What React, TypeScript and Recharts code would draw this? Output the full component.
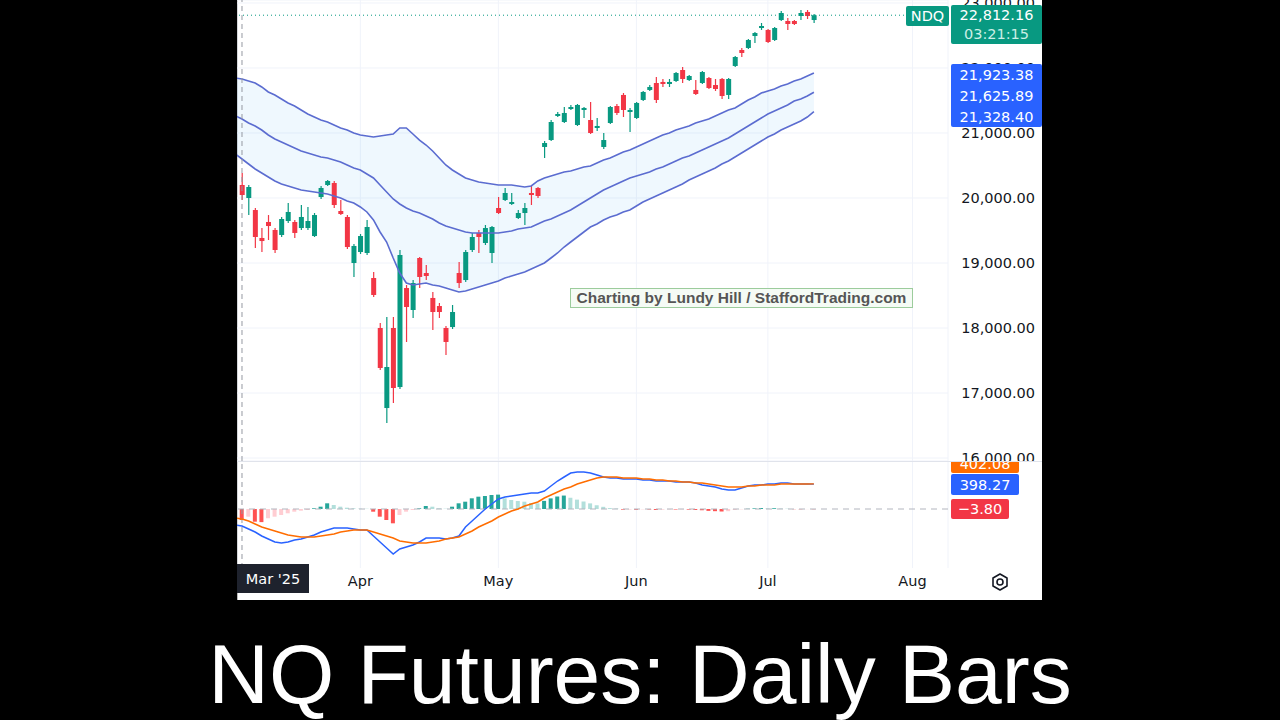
import React from 'react';
import { Area, Bar, CartesianGrid, Cell, ComposedChart, Line, ReferenceLine, XAxis, YAxis } from 'recharts';

const GREEN = '#089981';
const RED = '#F23645';
const BAND = '#5B6CD0';
const AXIS_FONT = '"DejaVu Sans", sans-serif';

// daily bars, Mar 6 .. Jul 11 2025 (trading-day index 0..87)
const opens = [20200, 20000, 19815, 19385, 19631, 19508, 19431, 19646, 19631, 19538, 19538, 19415, 20015, 20200, 20231, 19800, 19708, 19000, 19169, 19154, 18769, 18000, 16769, 18000, 17092, 18615, 18277, 19077, 18846, 18462, 18338, 18000, 18015, 18846, 18738, 19200, 19462, 19308, 19154, 19846, 19969, 19908, 19692, 19769, 20077, 20154, 20785, 20892, 21262, 21169, 21369, 21123, 21354, 21200, 21077, 20785, 21154, 21415, 21585, 21323, 21231, 21508, 21662, 21769, 21785, 21754, 21800, 21969, 21815, 21662, 21769, 21846, 21738, 21831, 21585, 22031, 22277, 22308, 22492, 22615, 22585, 22431, 22738, 22723, 22723, 22800, 22862, 22738];
const highs = [20385, 20200, 19846, 19538, 19738, 19538, 19708, 19923, 19662, 19892, 19862, 19769, 20185, 20277, 20262, 19969, 19738, 19292, 19446, 19662, 18862, 18077, 18169, 18169, 19200, 18662, 18738, 19092, 18969, 18554, 18385, 18031, 18354, 19015, 19200, 19462, 19508, 19585, 19569, 20015, 20154, 20077, 19815, 19923, 20200, 20169, 20877, 21200, 21323, 21400, 21431, 21446, 21400, 21477, 21231, 21000, 21415, 21446, 21615, 21385, 21477, 21646, 21738, 21862, 21831, 21831, 21938, 22015, 21892, 21815, 21954, 21862, 21831, 21846, 21846, 22185, 22308, 22446, 22554, 22692, 22600, 22631, 22877, 22769, 22738, 22892, 22892, 22830];
const lows = [19969, 19738, 19231, 19169, 19354, 19154, 19400, 19615, 19385, 19508, 19508, 19400, 19985, 20185, 19846, 19738, 19215, 18785, 19138, 19123, 18477, 17354, 16538, 16846, 17062, 17785, 18154, 18615, 18738, 17969, 18154, 17585, 17985, 18615, 18708, 19169, 19154, 19277, 19000, 19754, 19954, 19892, 19677, 19585, 19892, 20000, 20615, 20877, 21246, 21154, 21354, 21108, 21231, 20985, 21031, 20754, 21138, 21277, 21246, 21015, 21215, 21492, 21646, 21462, 21708, 21708, 21785, 21769, 21800, 21585, 21754, 21677, 21646, 21523, 21523, 22015, 22169, 22292, 22385, 22585, 22385, 22415, 22723, 22585, 22662, 22738, 22754, 22692];
const closes = [20046, 20169, 19400, 19338, 19569, 19200, 19677, 19785, 19462, 19708, 19646, 19738, 20154, 20262, 19892, 19754, 19246, 19262, 19415, 19554, 18508, 17385, 17400, 17077, 19123, 18323, 18692, 18785, 18800, 18246, 18246, 17785, 18246, 18692, 19169, 19400, 19400, 19538, 19554, 19769, 20077, 19938, 19769, 19846, 20046, 20031, 20846, 21169, 21292, 21308, 21400, 21431, 21385, 21000, 21108, 20892, 21400, 21308, 21354, 21354, 21462, 21631, 21708, 21508, 21754, 21785, 21923, 21831, 21877, 21600, 21938, 21692, 21677, 21569, 21831, 22169, 22231, 22431, 22538, 22646, 22400, 22615, 22846, 22677, 22677, 22846, 22800, 22812];

// envelope bands; the first value is the day before the first visible bar (index -1, at the pane edge)
const upperBand = [21846, 21831, 21800, 21769, 21708, 21631, 21585, 21523, 21462, 21415, 21354, 21292, 21246, 21200, 21169, 21123, 21077, 21046, 21000, 20969, 20954, 20938, 20954, 20969, 20985, 21077, 21077, 20985, 20892, 20815, 20723, 20615, 20508, 20431, 20369, 20308, 20277, 20246, 20231, 20215, 20200, 20200, 20200, 20185, 20169, 20185, 20262, 20308, 20338, 20369, 20400, 20415, 20446, 20477, 20492, 20538, 20585, 20615, 20662, 20708, 20738, 20785, 20831, 20877, 20923, 20969, 21000, 21046, 21077, 21108, 21154, 21185, 21215, 21262, 21308, 21354, 21385, 21446, 21508, 21554, 21615, 21646, 21677, 21723, 21754, 21800, 21831, 21877, 21923];
const middleBand = [21262, 21215, 21154, 21108, 21046, 20969, 20908, 20862, 20815, 20769, 20723, 20692, 20662, 20631, 20615, 20585, 20554, 20508, 20462, 20431, 20369, 20308, 20200, 20092, 19985, 19908, 19846, 19800, 19769, 19723, 19677, 19615, 19569, 19538, 19508, 19477, 19462, 19462, 19462, 19462, 19462, 19477, 19492, 19523, 19538, 19554, 19600, 19646, 19677, 19723, 19769, 19815, 19877, 19938, 20000, 20062, 20123, 20169, 20215, 20262, 20308, 20338, 20369, 20400, 20446, 20477, 20523, 20569, 20615, 20646, 20692, 20738, 20785, 20831, 20877, 20923, 20985, 21046, 21108, 21169, 21231, 21292, 21338, 21385, 21431, 21492, 21523, 21569, 21626];
const lowerBand = [20677, 20600, 20523, 20446, 20385, 20323, 20262, 20215, 20185, 20154, 20123, 20108, 20092, 20077, 20062, 20031, 20000, 19954, 19923, 19862, 19785, 19662, 19477, 19323, 19077, 18846, 18692, 18662, 18677, 18692, 18662, 18646, 18615, 18585, 18554, 18569, 18600, 18631, 18662, 18692, 18723, 18769, 18800, 18831, 18862, 18908, 18954, 19000, 19077, 19154, 19246, 19323, 19400, 19477, 19554, 19600, 19662, 19708, 19738, 19785, 19815, 19877, 19938, 19985, 20031, 20077, 20123, 20169, 20215, 20277, 20323, 20369, 20415, 20462, 20523, 20569, 20631, 20692, 20754, 20815, 20877, 20938, 20985, 21046, 21092, 21138, 21185, 21246, 21328];

// MACD (lines also start at index -1)
const macdLine = [-256, -272, -320, -368, -432, -480, -528, -544, -528, -496, -480, -448, -416, -368, -336, -304, -304, -304, -320, -336, -336, -432, -528, -624, -720, -640, -608, -576, -528, -464, -464, -464, -480, -464, -432, -288, -192, -96, 0, 80, 160, 192, 208, 224, 240, 256, 256, 288, 368, 448, 512, 576, 592, 592, 576, 544, 512, 496, 496, 480, 480, 480, 464, 464, 448, 448, 448, 432, 432, 432, 416, 384, 368, 352, 320, 304, 304, 336, 368, 384, 384, 400, 400, 416, 416, 400, 400, 400, 398];
const signalLine = [-144, -160, -192, -240, -288, -320, -352, -384, -416, -432, -448, -448, -448, -432, -416, -400, -368, -352, -336, -336, -336, -368, -400, -432, -464, -512, -528, -544, -544, -544, -528, -512, -480, -464, -448, -400, -352, -288, -240, -192, -128, -80, -32, 0, 48, 80, 112, 176, 224, 272, 320, 352, 400, 432, 464, 496, 512, 512, 512, 496, 496, 496, 480, 480, 464, 464, 448, 448, 432, 432, 416, 416, 400, 384, 368, 352, 352, 352, 368, 368, 384, 384, 384, 400, 400, 400, 400, 400, 402];
const histogram = [-176, -123, -203, -210, -149, -123, -96, -69, -43, -27, -16, 11, 37, 91, 64, 37, 21, 11, 5, 3, -43, -123, -176, -229, -96, -43, -16, 11, 48, 37, 11, 5, 37, 91, 117, 171, 197, 208, 224, 230, 171, 144, 128, 117, 96, 90, 130, 170, 200, 215, 180, 150, 120, 90, 60, 35, 15, 8, -10, -8, -12, -5, -8, -15, -10, -5, -8, -5, -10, -15, -20, -30, -35, -40, -35, -15, -5, 5, 10, 15, 10, 12, 8, 5, -3, -4, -2, -4];

const monthTicks = [18, 39, 60, 80, 102];
const monthLabels = ['Apr', 'May', 'Jun', 'Jul', 'Aug'];
const priceTicks = [16000, 17000, 18000, 19000, 20000, 21000, 22000, 23000];

const rows = upperBand.map((upper, k) => {
  const i = k - 1;
  const bar = i >= 0;
  return {
    i,
    open: bar ? opens[i] : null,
    high: bar ? highs[i] : null,
    low: bar ? lows[i] : null,
    close: bar ? closes[i] : null,
    upper,
    middle: middleBand[k],
    lower: lowerBand[k],
    band: [lowerBand[k], upper],
    macd: macdLine[k],
    signal: signalLine[k],
    hist: bar ? histogram[i] : null,
  };
});

const histColor = (i: number) => {
  if (i < 0) return 'none';
  const v = histogram[i];
  const prev = i > 0 ? histogram[i - 1] : v;
  if (v >= 0) return v >= prev ? '#26A69A' : '#B2DFDB';
  return v <= prev ? '#FF5252' : '#FFCDD2';
};

const X_DOMAIN: [number, number] = [-0.76, 107.4];

function Candle(props: any) {
  const { x, y, width, height, payload } = props;
  if (!payload || payload.open == null) return null;
  const { open, close, high, low } = payload;
  const color = close >= open ? GREEN : RED;
  const top = Math.min(y, y + height);
  const h = Math.abs(height);
  const k = high === low ? 0 : h / (high - low);
  const cx = x + width / 2;
  const bodyTop = top + (high - Math.max(open, close)) * k;
  const bodyH = Math.max(1.2, Math.abs(open - close) * k);
  return (
    <g>
      <line x1={cx} x2={cx} y1={top} y2={top + h} stroke={color} strokeWidth={1.2} />
      <rect x={cx - 2.5} y={bodyTop} width={5} height={bodyH} fill={color} />
    </g>
  );
}

function PriceTick(props: any) {
  const { x, y, payload } = props;
  return (
    <text x={x + 87} y={y + 5} textAnchor="end" fontSize={14.5} fontFamily={AXIS_FONT} fill="#131722">
      {payload.value.toLocaleString('en-US', { minimumFractionDigits: 2, maximumFractionDigits: 2 })}
    </text>
  );
}

function MonthTick(props: any) {
  const { x, y, payload } = props;
  const k = monthTicks.indexOf(payload.value);
  return (
    <text x={x} y={y + 18} textAnchor="middle" fontSize={14.5} fontFamily={AXIS_FONT} fill="#131722">
      {monthLabels[k]}
    </text>
  );
}

const box = (left: number, top: number, width: number, height: number, bg: string): React.CSSProperties => ({
  position: 'absolute',
  left,
  top,
  width,
  height,
  background: bg,
  color: '#ffffff',
  fontFamily: AXIS_FONT,
  fontSize: 14.5,
  borderRadius: 2,
  display: 'flex',
  flexDirection: 'column',
  alignItems: 'center',
  justifyContent: 'space-around',
});

export default function App() {
  return (
    <div style={{ position: 'absolute', left: 0, top: 0, width: 1280, height: 720, background: '#000000', overflow: 'hidden' }}>
      <div style={{ position: 'absolute', left: 237, top: 0, width: 805, height: 600, background: '#ffffff', borderLeft: '1px solid #b8b8b8', boxSizing: 'border-box' }} />

      <div style={{ position: 'absolute', left: 237, top: 0 }}>
        <ComposedChart width={805} height={461} data={rows} margin={{ top: 0, right: 0, bottom: 0, left: 0 }}>
          <CartesianGrid stroke="#F0F3FA" />
          <XAxis type="number" dataKey="i" domain={X_DOMAIN} ticks={monthTicks} allowDataOverflow hide />
          <YAxis
            orientation="right"
            width={94}
            domain={[15954, 23046]}
            ticks={priceTicks}
            interval={0}
            allowDataOverflow
            axisLine={false}
            tickLine={false}
            tickSize={0}
            tickMargin={0}
            tick={<PriceTick />}
          />
          <Area dataKey="band" stroke="none" fill="#2196F3" fillOpacity={0.07} isAnimationActive={false} />
          <Line dataKey="upper" stroke={BAND} strokeWidth={1.6} dot={false} isAnimationActive={false} />
          <Line dataKey="middle" stroke={BAND} strokeWidth={1.6} dot={false} isAnimationActive={false} />
          <Line dataKey="lower" stroke={BAND} strokeWidth={1.6} dot={false} isAnimationActive={false} />
          <ReferenceLine x={0} stroke="#9598A1" strokeDasharray="5 4" />
          <ReferenceLine y={22812} stroke={GREEN} strokeDasharray="1 3" />
          <Bar
            dataKey={(d: any) => (d.open == null ? null : [d.low, d.high])}
            barSize={5}
            shape={<Candle />}
            isAnimationActive={false}
          />
        </ComposedChart>
      </div>

      <div style={{ position: 'absolute', left: 237, top: 461, width: 805, height: 1, background: '#E0E3EB' }} />

      <div style={{ position: 'absolute', left: 237, top: 462 }}>
        <ComposedChart width={805} height={138} data={rows} margin={{ top: 0, right: 0, bottom: 0, left: 0 }}>
          <CartesianGrid stroke="#F0F3FA" horizontal={false} />
          <XAxis
            type="number"
            dataKey="i"
            domain={X_DOMAIN}
            ticks={monthTicks}
            interval={0}
            allowDataOverflow
            height={32}
            axisLine={false}
            tickLine={false}
            tickSize={0}
            tickMargin={0}
            tick={<MonthTick />}
          />
          <YAxis orientation="right" width={94} domain={[-944, 752]} allowDataOverflow axisLine={false} tickLine={false} tick={false} />
          <ReferenceLine y={0} stroke="#B2B5BE" strokeDasharray="6 5" />
          <ReferenceLine x={0} stroke="#9598A1" strokeDasharray="5 4" />
          <Bar dataKey="hist" barSize={4} isAnimationActive={false}>
            {rows.map((r) => (
              <Cell key={r.i} fill={histColor(r.i)} />
            ))}
          </Bar>
          <Line dataKey="macd" stroke="#2962FF" strokeWidth={1.5} dot={false} isAnimationActive={false} />
          <Line dataKey="signal" stroke="#FF6D00" strokeWidth={1.5} dot={false} isAnimationActive={false} />
        </ComposedChart>
      </div>

      {/* price scale labels */}
      <div style={box(906, 6, 43, 20, GREEN)}>NDQ</div>
      <div style={box(951, 5, 91, 39, GREEN)}>
        <span>22,812.16</span>
        <span style={{ color: '#CBEFE6' }}>03:21:15</span>
      </div>
      <div style={box(951, 64, 91, 63, '#2962FF')}>
        <span>21,923.38</span>
        <span>21,625.89</span>
        <span>21,328.40</span>
      </div>

      {/* MACD scale labels */}
      <div style={{ position: 'absolute', left: 951, top: 462, width: 68, height: 11, overflow: 'hidden' }}>
        <div style={box(0, -7, 68, 18, '#FF6D00')}>402.08</div>
      </div>
      <div style={box(951, 474, 68, 21, '#2962FF')}>398.27</div>
      <div style={box(951, 499, 58, 20, RED)}>−3.80</div>

      {/* crosshair time label */}
      <div style={{ ...box(237, 564, 72, 29, '#1E222D'), borderRadius: 0 }}>Mar '25</div>

      {/* settings icon */}
      <svg style={{ position: 'absolute', left: 990, top: 572 }} width={20} height={20} viewBox="0 0 20 20">
        <polygon points="10,2 17,6 17,14 10,18 3,14 3,6" fill="none" stroke="#131722" strokeWidth={1.6} strokeLinejoin="round" />
        <circle cx={10} cy={10} r={3} fill="none" stroke="#131722" strokeWidth={1.6} />
      </svg>

      {/* watermark */}
      <div
        style={{
          position: 'absolute',
          left: 570,
          top: 288,
          width: 343,
          height: 20,
          boxSizing: 'border-box',
          border: '1.5px solid #9CCC9C',
          background: '#F5FBF5',
          color: '#555555',
          fontFamily: '"Liberation Sans", Arial, sans-serif',
          fontWeight: 700,
          fontSize: 15.5,
          display: 'flex',
          alignItems: 'center',
          justifyContent: 'center',
          whiteSpace: 'nowrap',
        }}
      >
        Charting by Lundy Hill / StaffordTrading.com
      </div>

      <div
        style={{
          position: 'absolute',
          left: 0,
          top: 632,
          width: 1280,
          textAlign: 'center',
          color: '#ffffff',
          fontFamily: '"Liberation Sans", Arial, sans-serif',
          fontSize: 84,
          lineHeight: '84px',
          whiteSpace: 'nowrap',
        }}
      >
        NQ Futures: Daily Bars
      </div>
    </div>
  );
}
